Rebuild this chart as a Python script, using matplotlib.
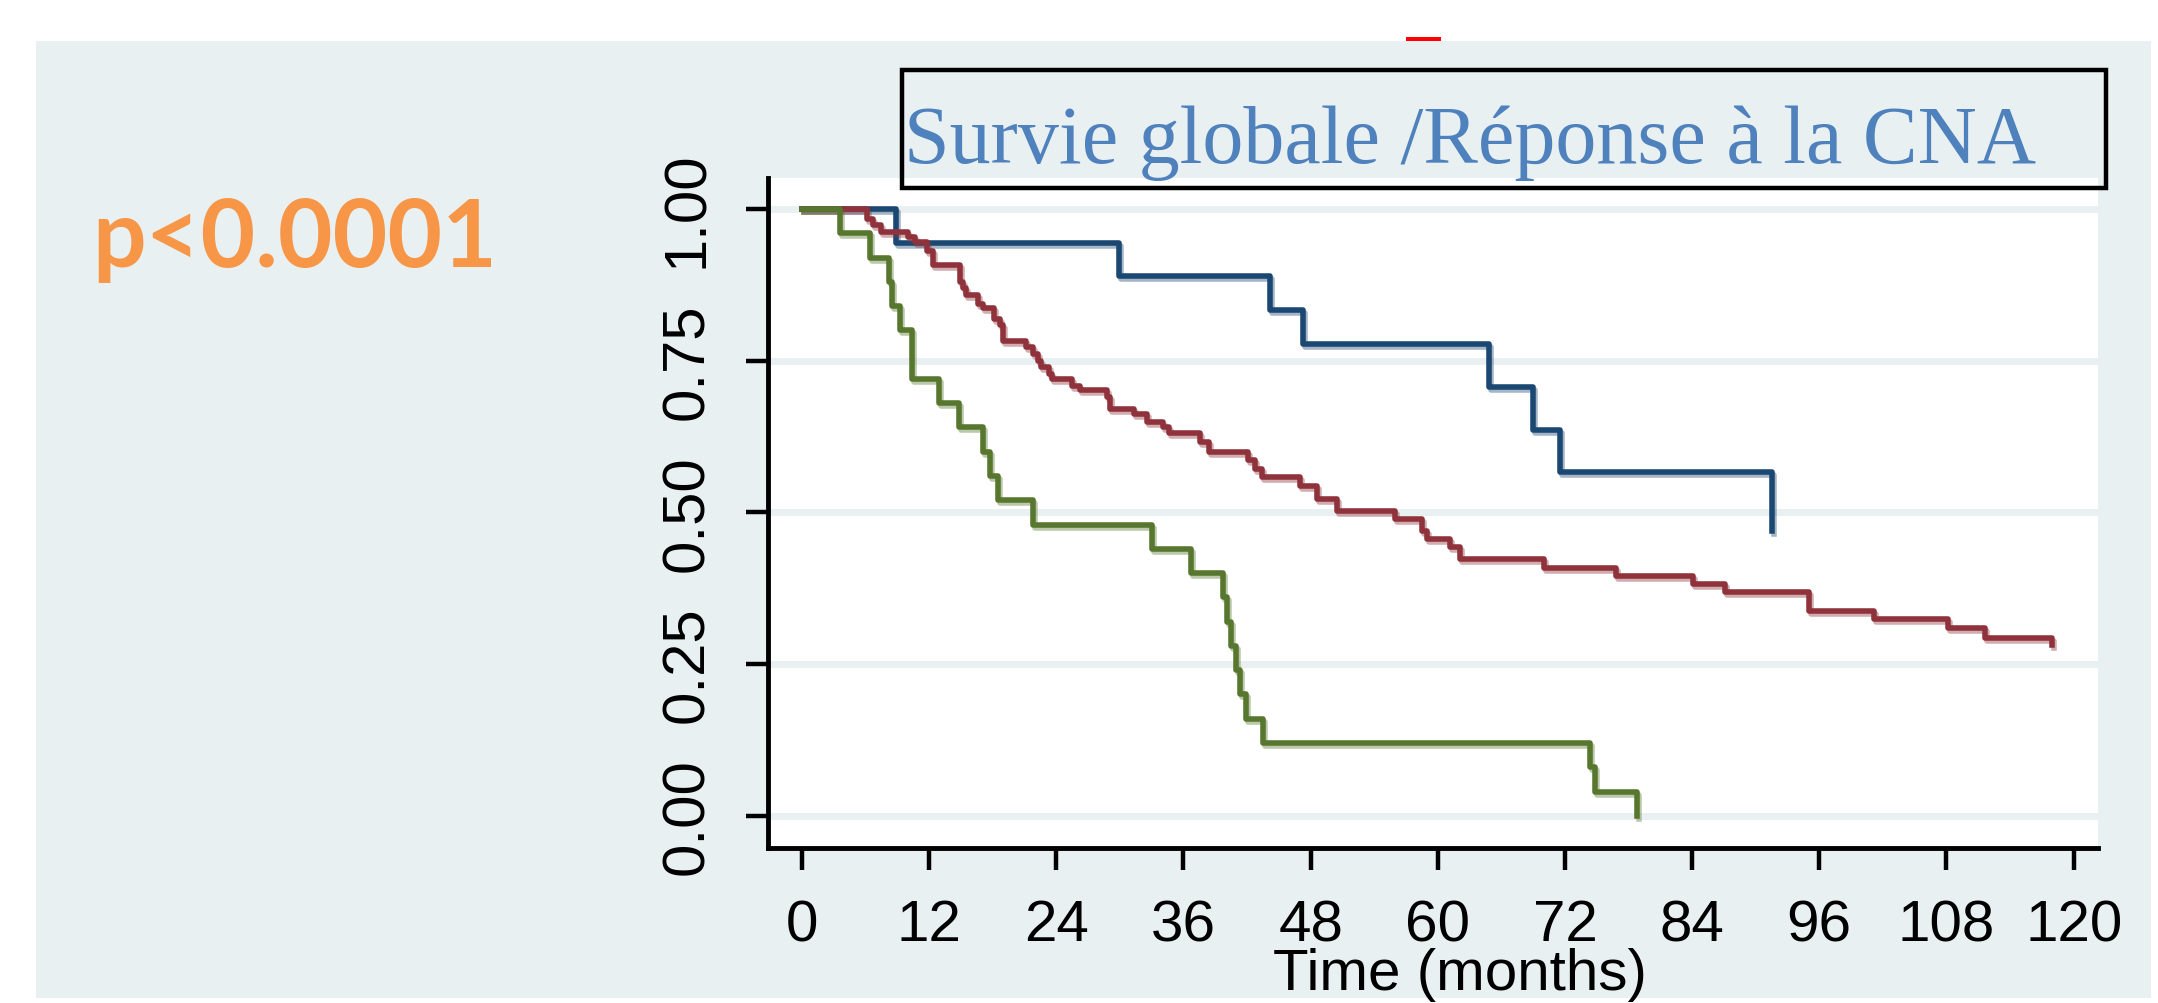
import matplotlib
matplotlib.use('Agg')
from matplotlib import pyplot as plt
from matplotlib.patches import Rectangle
import matplotlib.transforms as mtransforms

# Kaplan-Meier curves (time in months, survival)
blue_t = [0, 8.9, 29.9, 44.2, 47.3, 64.8, 69.0, 71.5, 91.5]
blue_s = [1.0, 0.944, 0.889, 0.833, 0.778, 0.707, 0.636, 0.566, 0.47]

red_t = [0, 6.1, 6.7, 7.5, 10.0, 10.7, 11.8, 12.4, 14.9, 15.2, 15.5, 16.6, 17.1,
         18.1, 18.7, 19.0, 21.1, 21.8, 22.3, 22.6, 23.3, 23.6, 25.5, 26.2, 28.8,
         29.1, 31.3, 32.6, 34.1, 34.6, 37.6, 38.4, 42.1, 42.8, 43.4, 47.0, 48.6,
         50.5, 56.0, 58.5, 59.0, 61.2, 62.1, 70.0, 76.8, 84.1, 87.1, 95.0, 101.2,
         108.1, 111.6, 118.0]
red_s = [1.0, 0.984, 0.973, 0.962, 0.954, 0.945, 0.930, 0.907, 0.880, 0.869, 0.858,
         0.844, 0.836, 0.819, 0.808, 0.783, 0.772, 0.761, 0.750, 0.739, 0.728, 0.720,
         0.709, 0.701, 0.690, 0.671, 0.662, 0.649, 0.640, 0.630, 0.616, 0.599, 0.586,
         0.572, 0.558, 0.544, 0.522, 0.502, 0.489, 0.470, 0.456, 0.443, 0.424, 0.409,
         0.395, 0.382, 0.369, 0.337, 0.324, 0.310, 0.293, 0.282]

green_t = [0, 3.6, 6.4, 8.2, 8.5, 9.3, 10.4, 12.9, 14.8, 17.1, 17.75, 18.5, 21.8,
           33.0, 36.7, 39.7, 40.1, 40.5, 41.0, 41.3, 41.9, 43.5, 74.4, 74.8, 78.8]
green_s = [1.0, 0.96, 0.92, 0.88, 0.84, 0.80, 0.72, 0.68, 0.64, 0.60, 0.56, 0.52, 0.48,
           0.44, 0.40, 0.36, 0.32, 0.28, 0.24, 0.20, 0.16, 0.12, 0.08, 0.04, 0.0]

xticks = [0, 12, 24, 36, 48, 60, 72, 84, 96, 108, 120]
yticks = [0.0, 0.25, 0.5, 0.75, 1.0]
ylabels = ['0.00', '0.25', '0.50', '0.75', '1.00']

title = 'Survie globale /Réponse à la CNA'
ptext = 'p<0.0001'
xlabel = 'Time (months)'

W, H = 2158, 1004
panel = '#e9f0f2'

fig = plt.figure(figsize=(W / 100, H / 100), dpi=100, facecolor='white')

def fx(px):
    return px / W

def fy(py):
    return 1 - py / H

# light panel behind everything
fig.patches.append(Rectangle((fx(36), fy(999)), fx(2151) - fx(36), fy(42) - fy(999),
                             transform=fig.transFigure, facecolor=panel, edgecolor='none', zorder=-10))
# small red mark at top
fig.patches.append(Rectangle((fx(1406), fy(42)), fx(1441) - fx(1406), fy(38) - fy(42),
                             transform=fig.transFigure, facecolor='#ff0000', edgecolor='none', zorder=-5))

ax = fig.add_axes([fx(768), fy(849), fx(2098) - fx(768), fy(179) - fy(849)])
ax.set_zorder(1)
ax.set_facecolor('white')
ax.set_xlim(-3.2, 122.3)
ax.set_ylim(-0.053, 1.051)

ax.set_yticks(yticks)
ax.set_axisbelow(True)
ax.yaxis.grid(True, color=panel, linewidth=5)
ax.xaxis.grid(False)

shadow = mtransforms.offset_copy(ax.transData, fig=fig, x=2.0, y=-3.0, units='dots')
series = [(blue_t, blue_s, '#1b4872', 2), (red_t, red_s, '#8f323b', 3), (green_t, green_s, '#58772e', 4)]
for t, s, c, z in series:
    ax.step(t, s, where='post', color=c, lw=4.0, alpha=0.4, transform=shadow, zorder=z)
    ax.step(t, s, where='post', color=c, lw=4.0, zorder=z + 0.5)

for side in ['top', 'right']:
    ax.spines[side].set_visible(False)
for side in ['left', 'bottom']:
    ax.spines[side].set_linewidth(3.5)
    ax.spines[side].set_color('black')

ax.set_xticks(xticks)
ax.set_xticklabels([str(v) for v in xticks], family='Liberation Sans', fontsize=42)
ax.set_yticklabels(ylabels, family='Liberation Sans', fontsize=43, rotation=90,
                   va='center')
ax.tick_params(axis='x', length=16, width=3.2, pad=20, direction='out')
ax.tick_params(axis='y', length=16, width=3.2, pad=22, direction='out')

fig.text(fx(1460), fy(990), xlabel, family='Liberation Sans', fontsize=42,
         ha='center', va='baseline', zorder=3)

# title box (outline only) and title text
fig.patches.append(Rectangle((fx(902), fy(189)), fx(2106) - fx(902), fy(71) - fy(189),
                             transform=fig.transFigure, facecolor='none', edgecolor='black',
                             linewidth=3.2, zorder=5))
fig.text(fx(904), fy(163), title, family='Liberation Serif', fontsize=59, color='#4f81bd',
         ha='left', va='baseline', zorder=5)

fig.text(fx(92), fy(267), ptext, family='Lato', fontweight='bold', fontsize=68,
         color='#f79646', ha='left', va='baseline')

fig.savefig('out.png', dpi=100, facecolor='white')
